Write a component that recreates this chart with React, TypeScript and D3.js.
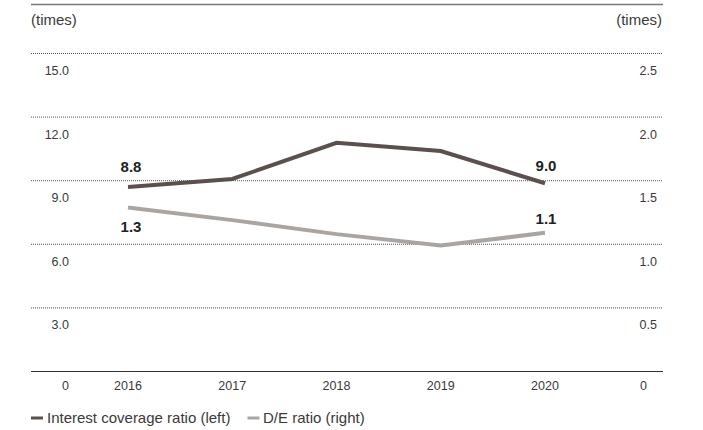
import React from "react";
import * as d3 from "d3";

const years = ["2016", "2017", "2018", "2019", "2020"];
const interestCoverage = [8.7, 9.08, 10.79, 10.4, 8.88];
const deRatio = [1.29, 1.19, 1.08, 0.99, 1.09];
const leftTicks = [3, 6, 9, 12, 15];
const rightTicks = [0.5, 1.0, 1.5, 2.0, 2.5];
const firstLastLabelsLeft = ["8.8", "9.0"];
const firstLastLabelsRight = ["1.3", "1.1"];
const legendItems = ["Interest coverage ratio (left)", "D/E ratio (right)"];

const W = 703;
const H = 430;
const FONT = "'Liberation Sans', Arial, Helvetica, sans-serif";
const DARK = "#5b504d";
const LIGHT = "#aba5a2";
const TEXT = "#3a3a3a";

export default function App() {
  const x = d3.scalePoint<string>().domain(years).range([128, 545]);
  const yL = d3.scaleLinear().domain([0, 15]).range([371.5, 53.5]);
  const yR = d3.scaleLinear().domain([0, 2.5]).range([371.5, 53.5]);

  const lineL = d3
    .line<number>()
    .x((_, i) => x(years[i]) as number)
    .y((d) => yL(d));
  const lineR = d3
    .line<number>()
    .x((_, i) => x(years[i]) as number)
    .y((d) => yR(d));

  const gx0 = 31;
  const gx1 = 663;
  const n = years.length;
  const tickFs = 12.5;

  return (
    <svg
      width={W}
      height={H}
      style={{ position: "absolute", left: 0, top: 0 }}
      fontFamily={FONT}
    >
      <rect width={W} height={H} fill="#fff" />
      <line x1={gx0} x2={gx1} y1={4.5} y2={4.5} stroke="#7a7a7a" strokeWidth={1.5} />
      <text x={gx0} y={25} fontSize={15} fill={TEXT}>(times)</text>
      <text x={gx1 - 1} y={25} fontSize={15} fill={TEXT} textAnchor="end">(times)</text>

      {leftTicks.map((t) => (
        <line
          key={"g" + t}
          x1={gx0}
          x2={gx1}
          y1={yL(t)}
          y2={yL(t)}
          stroke="#555"
          strokeWidth={1}
          strokeDasharray="1,1"
        />
      ))}
      <line x1={gx0} x2={gx1} y1={yL(0)} y2={yL(0)} stroke="#333" strokeWidth={1.2} />

      {leftTicks.map((t) => (
        <text key={"l" + t} x={69} y={yL(t) + 21.5} fontSize={tickFs} fill={TEXT} textAnchor="end">
          {t.toFixed(1)}
        </text>
      ))}
      {rightTicks.map((t) => (
        <text key={"r" + t} x={657} y={yR(t) + 21.5} fontSize={tickFs} fill={TEXT} textAnchor="end">
          {t.toFixed(1)}
        </text>
      ))}
      <text x={69} y={390} fontSize={tickFs} fill={TEXT} textAnchor="end">0</text>
      <text x={643.5} y={390} fontSize={tickFs} fill={TEXT} textAnchor="middle">0</text>

      {years.map((yr) => (
        <text key={yr} x={x(yr)} y={390} fontSize={tickFs} fill={TEXT} textAnchor="middle">
          {yr}
        </text>
      ))}

      <path d={lineR(deRatio) || ""} fill="none" stroke={LIGHT} strokeWidth={4} />
      <path d={lineL(interestCoverage) || ""} fill="none" stroke={DARK} strokeWidth={4} />

      <text x={(x(years[0]) as number) + 3} y={171.5} fontSize={15} fontWeight="bold" fill="#222" textAnchor="middle">
        {firstLastLabelsLeft[0]}
      </text>
      <text x={(x(years[n - 1]) as number) + 1} y={170.5} fontSize={15} fontWeight="bold" fill="#222" textAnchor="middle">
        {firstLastLabelsLeft[1]}
      </text>
      <text x={(x(years[0]) as number) + 3} y={232} fontSize={15} fontWeight="bold" fill="#222" textAnchor="middle">
        {firstLastLabelsRight[0]}
      </text>
      <text x={(x(years[n - 1]) as number) + 1} y={223.5} fontSize={15} fontWeight="bold" fill="#222" textAnchor="middle">
        {firstLastLabelsRight[1]}
      </text>

      <rect x={31} y={416.5} width={12} height={3} fill={DARK} />
      <text x={47} y={423} fontSize={15} fill={TEXT}>{legendItems[0]}</text>
      <rect x={247.5} y={416.5} width={12} height={3} fill={LIGHT} />
      <text x={263} y={423} fontSize={15} fill={TEXT}>{legendItems[1]}</text>
    </svg>
  );
}
